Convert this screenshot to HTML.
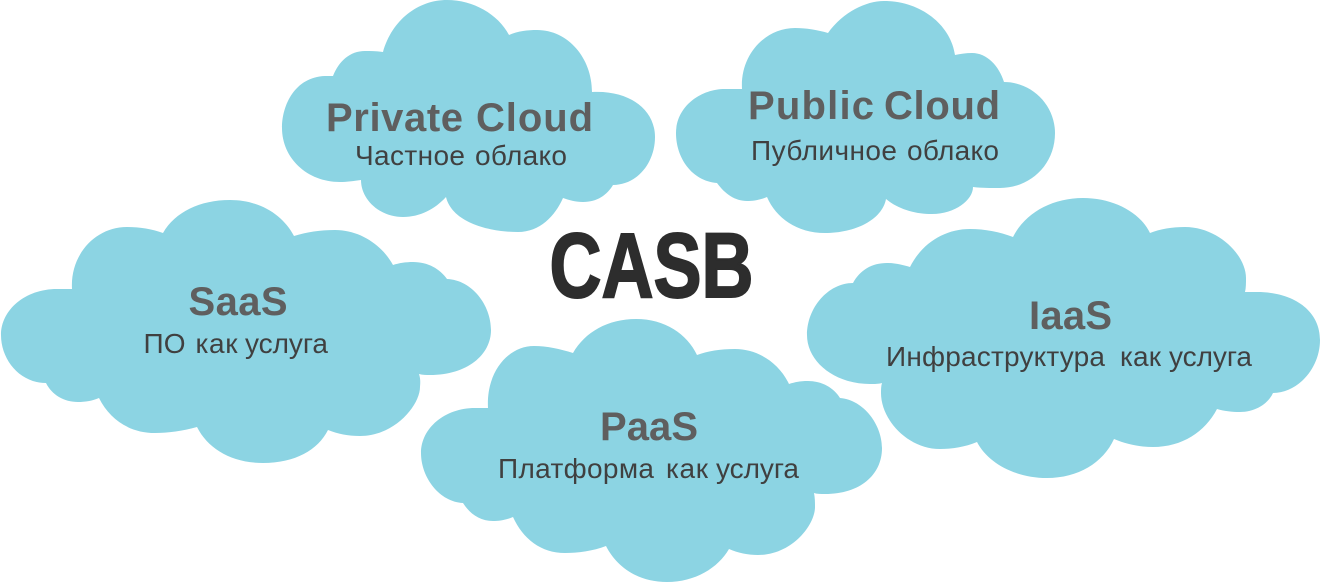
<!DOCTYPE html>
<html><head><meta charset="utf-8"><style>
html,body{margin:0;padding:0;background:#fff}
svg{display:block}
text{font-family:"Liberation Sans",sans-serif}
.t{font-weight:bold;fill:#5f5f5f;font-size:40px}
.s{fill:#404040;font-size:28px}
path{fill:#8cd4e3}
</style></head><body>
<svg width="1320" height="583" viewBox="0 0 1320 583" xmlns="http://www.w3.org/2000/svg">
<!-- Private Cloud -->
<path d="M383,52 C392,20 418,0 447,0 C473,0 498,14 509,35 C518,31 528,30 537,30 C568,30 592,58 592,92 C630,90 655,110 655,137 C655,163 637,185 613,185 C607,195 597,202 583,202 C575,202 569,200 563,198 C555,216 540,232 518,232 C488,232 452,222 446,197 C435,209 420,217 403,217 C380,217 361,200 361,180 C353,181 347,182 340,182 C307,182 282,158 282,128 C282,105 295,77 325,76 C328,76 330,76 333,76 C339,61 350,51 365,51 C371,51 377,51 383,52 Z"/>
<!-- Public Cloud -->
<path d="M828,33 C843,12 866,1 884,1 C922,1 951,26 955,55 C960,54 966,53 972,53 C987,53 999,66 1004,82 C1032,82 1055,105 1055,133 C1055,165 1030,188 1000,188 C990,188 982,188 973,187 C973,200 955,214 932,214 C915,214 898,209 886,199 C882,220 855,233 825,233 C797,233 776,218 767,197 C760,200 753,201 747,201 C735,201 725,194 717,183 C692,181 676,158 676,133 C676,107 700,89 725,89 C731,89 737,89 742,89 C740,55 765,28 795,28 C806,28 818,30 828,33 Z"/>
<!-- SaaS -->
<path d="M163,233 C175,212 200,200 230,200 C260,200 283,215 294,236 C307,232 320,230 335,230 C360,230 382,245 393,265 C399,263 406,262 413,262 C428,262 440,269 447,279 C472,280 491,305 491,330 C491,355 467,375 430,375 C426,375 423,375 419,374 C421,380 420,385 420,387 C420,405 395,436 360,436 C348,436 338,434 328,430 C318,450 295,463 263,463 C232,463 208,449 197,427 C183,431 168,433 155,433 C130,433 110,420 99,398 C92,401 85,402 78,402 C64,402 52,395 46,383 C20,383 1,360 1,335 C1,310 25,289 57,289 C62,289 67,289 72,289 C70,255 95,227 127,227 C140,227 152,229 163,233 Z"/>
<!-- PaaS -->
<path d="M573,353 C585,332 608,319 636,319 C665,319 687,334 697,355 C708,351 720,349 735,349 C758,349 779,363 789,384 C795,382 801,381 808,381 C822,381 834,388 840,398 C864,400 882,425 882,448 C882,475 860,494 825,494 C821,494 817,494 814,493 C815,498 815,503 815,507 C815,525 792,555 758,555 C748,555 738,553 729,549 C718,568 695,582 667,582 C637,582 616,566 606,546 C593,551 578,553 565,553 C541,553 523,539 513,517 C506,520 499,521 493,521 C480,521 470,514 463,503 C440,502 421,478 421,453 C421,428 445,408 475,408 C480,408 484,408 488,408 C486,372 508,346 534,346 C547,346 560,349 573,353 Z"/>
<!-- IaaS -->
<path d="M1013,237 C1025,213 1052,198 1083,198 C1113,198 1140,212 1150,233 C1160,229 1172,227 1185,227 C1218,227 1246,255 1246,278 C1246,283 1246,288 1245,292 C1250,292 1253,292 1257,292 C1293,292 1320,310 1320,340 C1320,368 1298,393 1273,393 C1268,404 1255,412 1240,412 C1232,412 1224,411 1217,409 C1205,432 1182,447 1153,447 C1139,447 1126,444 1114,439 C1103,463 1078,478 1047,478 C1015,478 988,463 977,442 C965,447 952,449 940,449 C908,449 881,420 881,393 C881,390 881,386 882,383 C878,384 875,384 870,384 C835,384 807,362 807,335 C807,308 828,283 853,283 C860,270 872,263 887,263 C895,263 903,265 910,267 C922,243 945,229 970,229 C985,229 1000,232 1013,237 Z"/>

<text class="t" x="326" y="131" textLength="137">Private</text>
<text class="t" x="476" y="131" textLength="117">Cloud</text>
<text class="s" x="355" y="165" textLength="110">Частное</text>
<text class="s" x="475" y="165" textLength="92">облако</text>

<text class="t" x="748" y="119" textLength="126">Public</text>
<text class="t" x="884" y="119" textLength="116">Cloud</text>
<text class="s" x="751" y="160" textLength="146">Публичное</text>
<text class="s" x="907" y="160" textLength="92">облако</text>

<text class="t" x="188.500" y="315" textLength="99">SaaS</text>
<text class="s" x="143.500" y="353" textLength="42">ПО</text>
<text class="s" x="195.500" y="353" textLength="42">как</text>
<text class="s" x="245" y="353" textLength="83">услуга</text>

<text class="t" x="600" y="440" textLength="98">PaaS</text>
<text class="s" x="498" y="478" textLength="156">Платформа</text>
<text class="s" x="666" y="478" textLength="42">как</text>
<text class="s" x="716" y="478" textLength="83">услуга</text>

<text class="t" x="1029" y="329" textLength="83">IaaS</text>
<text class="s" x="886" y="366" textLength="219">Инфраструктура</text>
<text class="s" x="1120" y="366" textLength="41">как</text>
<text class="s" x="1169" y="366" textLength="83">услуга</text>

<text x="549.500" y="297" font-size="92" font-weight="bold" fill="#2d2d2d" stroke="#2d2d2d" stroke-width="2" textLength="204" lengthAdjust="spacingAndGlyphs">CASB</text>
</svg>
</body></html>
